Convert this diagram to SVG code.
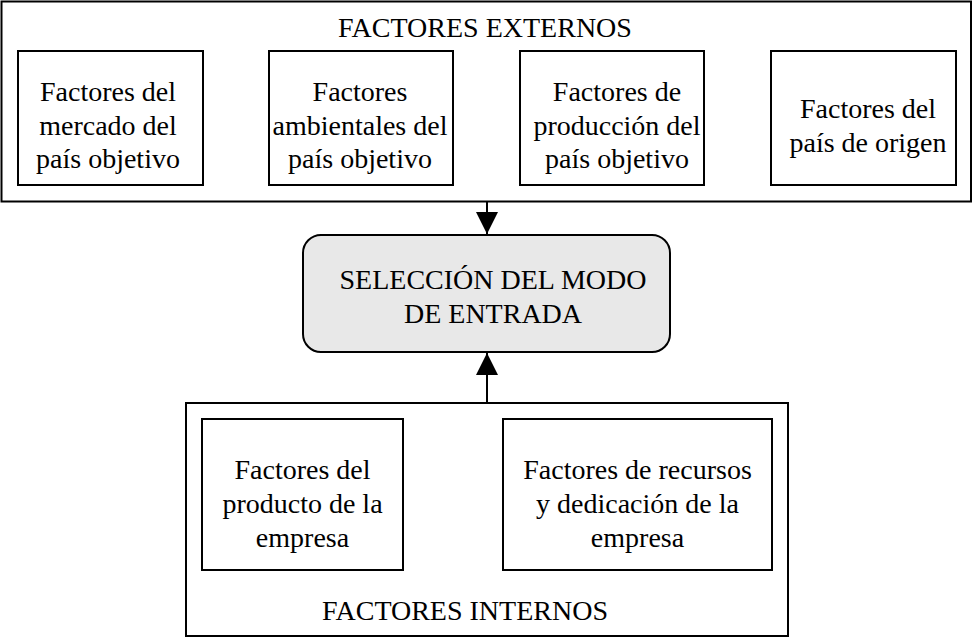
<svg xmlns="http://www.w3.org/2000/svg" width="973" height="638" viewBox="0 0 973 638">
<style>
.box{fill:#fff;stroke:#000;stroke-width:2}
.mid{fill:#e8e8e8;stroke:#000;stroke-width:2}
text{font-family:"Liberation Serif","Times New Roman",serif;font-size:28px;fill:#000;text-anchor:middle}
.conn{stroke:#000;stroke-width:2;fill:none}
</style>
<defs>
<marker id="arr" markerWidth="22" markerHeight="22" viewBox="0 0 22 22" refX="22" refY="11" orient="auto" markerUnits="userSpaceOnUse">
<path d="M0,0 L22,11 L0,22 Z" fill="#000"/>
</marker>
</defs>
<g id="externos">
<rect class="box" x="1.5" y="1.5" width="969.5" height="200"/>
<text x="485" y="37">FACTORES EXTERNOS</text>
</g>
<g id="ext1">
<rect class="box" x="18" y="51" width="185" height="134"/>
<text x="108" y="101">Factores del</text>
<text x="108" y="135">mercado del</text>
<text x="108" y="168">país objetivo</text>
</g>
<g id="ext2">
<rect class="box" x="269" y="51" width="184" height="134"/>
<text x="360" y="101">Factores</text>
<text x="360" y="135">ambientales del</text>
<text x="360" y="168">país objetivo</text>
</g>
<g id="ext3">
<rect class="box" x="520" y="51" width="184" height="134"/>
<text x="617" y="101">Factores de</text>
<text x="617" y="135">producción del</text>
<text x="617" y="168">país objetivo</text>
</g>
<g id="ext4">
<rect class="box" x="771" y="51" width="185" height="134"/>
<text x="868" y="118">Factores del</text>
<text x="868" y="152">país de origen</text>
</g>
<g id="seleccion">
<rect class="mid" x="303" y="235" width="367" height="117" rx="18" ry="18"/>
<text x="493" y="289">SELECCIÓN DEL MODO</text>
<text x="493" y="323">DE ENTRADA</text>
</g>
<g id="internos">
<rect class="box" x="186" y="403" width="602" height="233"/>
<text x="465" y="620">FACTORES INTERNOS</text>
</g>
<g id="int1">
<rect class="box" x="202" y="419" width="201" height="151"/>
<text x="302.5" y="479">Factores del</text>
<text x="302.5" y="513">producto de la</text>
<text x="302.5" y="547">empresa</text>
</g>
<g id="int2">
<rect class="box" x="503" y="419" width="269" height="151"/>
<text x="637.5" y="479">Factores de recursos</text>
<text x="637.5" y="513">y dedicación de la</text>
<text x="637.5" y="547">empresa</text>
</g>
<g id="connectors">
<line class="conn" x1="487" y1="202" x2="487" y2="234" marker-end="url(#arr)"/>
<line class="conn" x1="487" y1="402" x2="487" y2="353" marker-end="url(#arr)"/>
</g>
</svg>
